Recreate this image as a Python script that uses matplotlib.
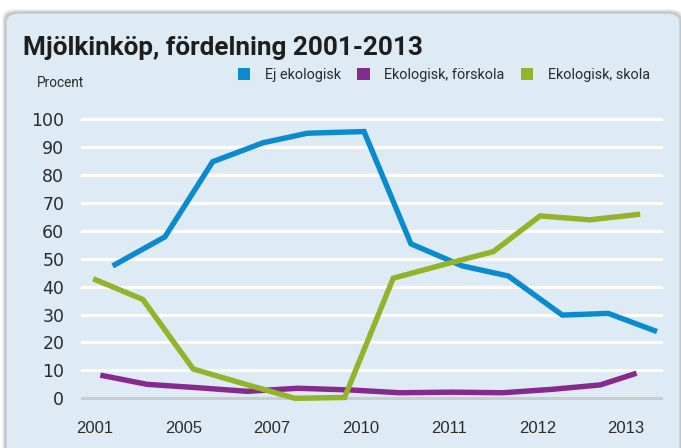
import matplotlib
matplotlib.use("Agg")
import matplotlib.pyplot as plt
from matplotlib.patches import FancyBboxPatch, Patch

# ---------------- data ----------------
year_labels = ["2001", "2005", "2007", "2010", "2011", "2012", "2013"]

# x positions in label-slot units
ej_x = [0.20, 0.79, 1.33, 1.90, 2.40, 3.04, 3.57, 4.15, 4.67, 5.28, 5.80, 6.35]
ej_y = [47.4, 57.8, 84.7, 91.5, 94.9, 95.5, 55.3, 47.4, 43.8, 29.8, 30.4, 23.9]

forskola_x = [0.06, 0.59, 1.16, 1.72, 2.29, 2.88, 3.44, 4.03, 4.61, 5.16, 5.71, 6.12]
forskola_y = [8.3, 5.0, 3.8, 2.5, 3.6, 3.0, 2.0, 2.2, 2.0, 3.2, 4.8, 9.0]

skola_x = [-0.02, 0.54, 1.11, 1.67, 2.26, 2.82, 3.37, 3.93, 4.50, 5.03, 5.59, 6.16]
skola_y = [42.8, 35.4, 10.5, 5.3, 0.0, 0.3, 43.0, 47.8, 52.5, 65.3, 63.9, 65.9]

series_names = ["Ej ekologisk", "Ekologisk, förskola", "Ekologisk, skola"]
series_colors = ["#0a8bcf", "#862a8e", "#92b32a"]

# ---------------- figure ----------------
W, H = 681, 448
fig = plt.figure(figsize=(W / 100, H / 100), dpi=100)
fig.patch.set_facecolor("white")

bg = "#deebf4"
txt = "#2b2b2b"
narrow = ["Roboto", "DejaVu Sans"]

# panel with a soft shadow
for off, a in [(4.0, 0.10), (3.0, 0.16), (1.8, 0.28)]:
    fig.patches.append(FancyBboxPatch(
        ((6 - off) / W, -20 / H), (674 + 2 * off) / W, (455 + off) / H,
        boxstyle=f"round,pad=0,rounding_size={14 / W}",
        transform=fig.transFigure, facecolor="#8f8f8f", edgecolor="none",
        alpha=a, zorder=0))
fig.patches.append(FancyBboxPatch(
    (6 / W, -20 / H), 674 / W, 455 / H,
    boxstyle=f"round,pad=0,rounding_size={14 / W}",
    transform=fig.transFigure, facecolor=bg, edgecolor="#bfc4c8",
    linewidth=0.8, zorder=0.5))

# ---------------- axes ----------------
ax = fig.add_axes([81 / W, 41.3 / H, 582 / W, 296.1 / H])
ax.set_zorder(2)
ax.set_facecolor("none")
ax.set_xlim(-0.158, 6.418)
ax.set_ylim(-3, 103)

for s in ax.spines.values():
    s.set_visible(False)

ax.set_yticks(range(0, 101, 10))
for v in range(10, 101, 10):
    ax.axhline(v, color="white", lw=2.2, zorder=1)
ax.axhline(0, color="#c9cdd0", lw=2.2, zorder=1)

ax.set_xticks(range(len(year_labels)))
ax.set_xticklabels(year_labels)
ax.tick_params(axis="both", length=0, colors=txt)
ax.tick_params(axis="y", pad=12, labelsize=12.5)
ax.tick_params(axis="x", pad=10, labelsize=12)
for lab in ax.get_xticklabels():
    lab.set_family(["Liberation Sans", "DejaVu Sans"])

for xs, ys, c in [(ej_x, ej_y, series_colors[0]),
                  (forskola_x, forskola_y, series_colors[1]),
                  (skola_x, skola_y, series_colors[2])]:
    ax.plot(xs, ys, color=c, lw=3.9, solid_capstyle="butt",
            solid_joinstyle="miter", zorder=3, clip_on=False)

# ---------------- texts ----------------
fig.text(23 / W, 1 - 55 / H, "Mjölkinköp, fördelning 2001-2013",
         fontsize=18.8, fontweight="bold", family=narrow, color="#1e1e1e",
         va="baseline", ha="left")
fig.text(37 / W, 1 - 83 / H, "Procent", fontsize=9.8, family=narrow,
         color=txt, va="center", ha="left")

handles = [Patch(facecolor=c, edgecolor="none") for c in series_colors]
leg = fig.legend(handles, series_names, loc="center left",
                 bbox_to_anchor=(225 / W, 1 - 75 / H), ncol=3, frameon=False,
                 handlelength=0.85, handleheight=0.85, handletextpad=1.0,
                 columnspacing=1.15, prop={"family": narrow, "size": 10.4})
for t in leg.get_texts():
    t.set_color(txt)

fig.savefig("out.png", dpi=100, facecolor=fig.get_facecolor())
